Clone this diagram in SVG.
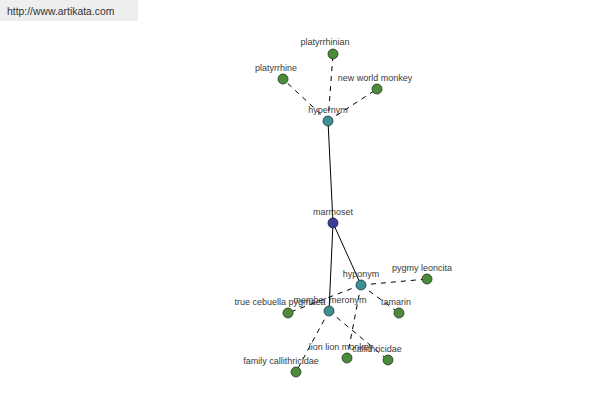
<svg xmlns="http://www.w3.org/2000/svg" width="600" height="400" viewBox="0 0 600 400">
<style>
text{font-family:"Liberation Sans",Arial,sans-serif;font-size:9px;fill:#3a3a3a;text-anchor:middle}
.wm{font-size:10.4px;text-anchor:start;fill:#333}
.s{stroke:#000;stroke-width:1;fill:none}
.d{stroke:#000;stroke-width:1;fill:none;stroke-dasharray:5,5}
.g{fill:#4b8b3b;stroke:#1e3a1e;stroke-width:0.8}
.t{fill:#3d8f92;stroke:#1e3a3a;stroke-width:0.8}
.b{fill:#3c3d98;stroke:#1a1a40;stroke-width:0.8}
</style>
<rect width="600" height="400" fill="#fff"/>
<rect x="0" y="0" width="138" height="21" fill="#eeeeee"/>
<text class="wm" x="7" y="15">http://www.artikata.com</text>
<g id="connectors">
<line class="s" x1="328" y1="121" x2="333" y2="223"/>
<line class="s" x1="333" y1="223" x2="361" y2="285"/>
<line class="s" x1="333" y1="223" x2="329" y2="311"/>
<line class="d" x1="328" y1="121" x2="333" y2="54"/>
<line class="d" x1="328" y1="121" x2="283" y2="79"/>
<line class="d" x1="328" y1="121" x2="377" y2="89"/>
<line class="d" x1="361" y1="285" x2="427" y2="279"/>
<line class="d" x1="361" y1="285" x2="288" y2="313"/>
<line class="d" x1="361" y1="285" x2="399" y2="313"/>
<line class="d" x1="361" y1="285" x2="347" y2="358"/>
<line class="d" x1="329" y1="311" x2="296" y2="372"/>
<line class="d" x1="329" y1="311" x2="388" y2="360"/>
</g>
<g id="platyrrhinian"><circle class="g" cx="333" cy="54" r="5"/><text x="325" y="45">platyrrhinian</text></g>
<g id="platyrrhine"><circle class="g" cx="283" cy="79" r="5"/><text x="276" y="71">platyrrhine</text></g>
<g id="new-world-monkey"><circle class="g" cx="377" cy="89" r="5"/><text x="375" y="81">new world monkey</text></g>
<g id="hypernym"><circle class="t" cx="328" cy="121" r="5"/><text x="328" y="113">hypernym</text></g>
<g id="marmoset"><circle class="b" cx="333" cy="223" r="5"/><text x="333" y="215">marmoset</text></g>
<g id="hyponym"><circle class="t" cx="361" cy="285" r="5"/><text x="361" y="277">hyponym</text></g>
<g id="pygmy-leoncita"><circle class="g" cx="427" cy="279" r="5"/><text x="422" y="271">pygmy leoncita</text></g>
<g id="member-meronym"><circle class="t" cx="329" cy="311" r="5"/><text x="330" y="303">member meronym</text></g>
<g id="true-cebuella-pygmaea"><circle class="g" cx="288" cy="313" r="5"/><text x="280" y="305">true cebuella pygmaea</text></g>
<g id="tamarin"><circle class="g" cx="399" cy="313" r="5"/><text x="396" y="305">tamarin</text></g>
<g id="lion-lion-monkey"><circle class="g" cx="347" cy="358" r="5"/><text x="341" y="350">lion lion monkey</text></g>
<g id="callithricidae"><circle class="g" cx="388" cy="360" r="5"/><text x="377" y="352">callithricidae</text></g>
<g id="family-callithricidae"><circle class="g" cx="296" cy="372" r="5"/><text x="281" y="364">family callithricidae</text></g>
</svg>
